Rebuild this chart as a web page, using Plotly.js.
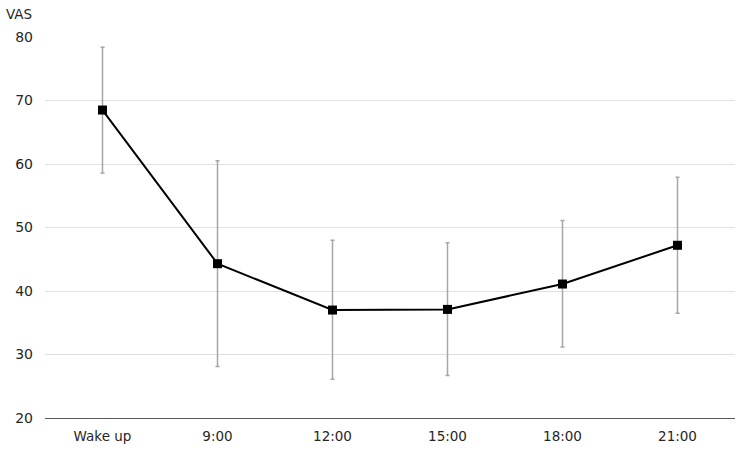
<!DOCTYPE html>
<html>
<head>
<meta charset="utf-8">
<script src="https://cdn.plot.ly/plotly-3.0.1.min.js"></script>
<style>
  html, body { margin: 0; padding: 0; background: #fff; }
  #chart { width: 745px; height: 450px; }
</style>
</head>
<body>
<div id="chart"></div>
<script>
var times = ['Wake up', '9:00', '12:00', '15:00', '18:00', '21:00'];
var vas = [68.5, 44.3, 37.0, 37.1, 41.1, 47.2];
var errUp = [9.9, 16.2, 11.0, 10.5, 10.0, 10.7];
var errDown = [9.9, 16.2, 10.9, 10.4, 9.9, 10.7];

var trace = {
    x: times,
    y: vas,
    type: 'scatter',
    mode: 'lines+markers',
    line: { color: '#000000', width: 2 },
    marker: { symbol: 'square', size: 9, color: '#000000' },
    error_y: {
        type: 'data',
        symmetric: false,
        array: errUp,
        arrayminus: errDown,
        color: '#a6a6a6',
        thickness: 1.5,
        width: 2
    },
    showlegend: false
};

var layout = {
    width: 745,
    height: 450,
    margin: { l: 45, r: 10, t: 37, b: 32 },
    paper_bgcolor: '#ffffff',
    plot_bgcolor: '#ffffff',
    font: { family: 'DejaVu Sans, Verdana, sans-serif', size: 13, color: '#262626' },
    xaxis: {
        type: 'category',
        range: [-0.5, 5.5],
        showgrid: false,
        showline: true,
        linecolor: '#595959',
        linewidth: 1,
        ticks: '',
        ticklabelstandoff: 6,
        tickfont: { size: 13.5 },
        fixedrange: true
    },
    yaxis: {
        range: [20, 80],
        dtick: 10,
        showgrid: true,
        gridcolor: '#e0e0e0',
        gridwidth: 1,
        zeroline: false,
        showline: false,
        ticks: '',
        ticklabelstandoff: 11,
        tickfont: { size: 14 },
        fixedrange: true
    },
    annotations: [{
        text: 'VAS',
        xref: 'paper', yref: 'paper',
        x: 0, y: 1,
        xanchor: 'right', yanchor: 'bottom',
        xshift: -11, yshift: 13,
        showarrow: false,
        font: { size: 13.5, color: '#262626' }
    }]
};

Plotly.newPlot('chart', [trace], layout, { displayModeBar: false, staticPlot: true });
</script>
</body>
</html>
